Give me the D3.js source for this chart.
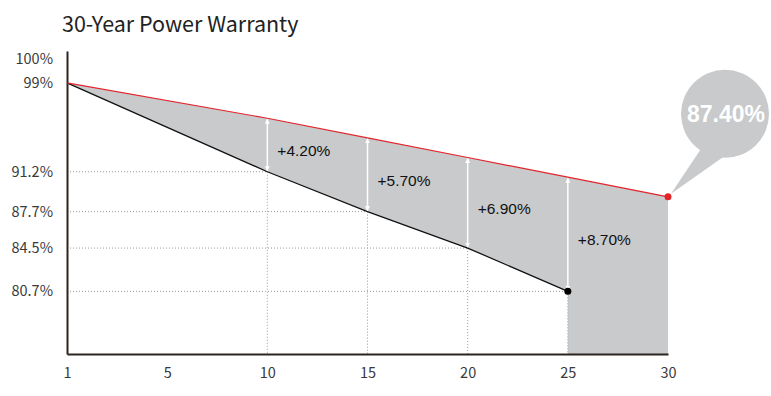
<!DOCTYPE html>
<html>
<head>
<meta charset="utf-8">
<script src="https://cdn.jsdelivr.net/npm/d3@7"></script>
<style>
  body { margin: 0; background: #fff; }
  svg { display: block; }
  .tick text { font-family: "Noto Sans CJK SC", "Noto Sans", sans-serif; font-size: 14.5px; fill: #3a3a3a; }
</style>
</head>
<body>
<svg id="chart" width="771" height="396"></svg>
<script>
(function () {
    // values
    const xLabels = ["1", "5", "10", "15", "20", "25", "30"];
    const years = [1, 10, 15, 20, 25];               // years with a marked output level
    const output = [99, 91.2, 87.7, 84.5, 80.7];      // industry linear degradation
    const gains = [0, 4.2, 5.7, 6.9, 8.7];            // extra output of the warranty
    const warrantyYears = [1, 10, 15, 20, 25, 30];
    const warranty = [99, 95.4, 93.4, 91.4, 89.4, 87.4];
    const yTicks = [99, 91.2, 87.7, 84.5, 80.7];
    const topLabel = "100%";
    const title = "30-Year Power Warranty";

    const svg = d3.select("#chart");

    const x = d3.scalePoint()
        .domain(xLabels)
        .range([67, 668]);

    const y = d3.scaleLinear()
        .domain([75.2, 101.8])
        .range([354, 51]);

    // the warranty line in the original is schematic: drawn on its own, flatter scale
    const yW = d3.scaleLinear()
        .domain([87.4, 99])
        .range([y(89), y(99)]);

    const lineGen = d3.line();

    const blackPts = years.map((yr, i) => [x(String(yr)), y(output[i])]);
    const redPts = warrantyYears.map((yr, i) => [x(String(yr)), yW(warranty[i])]);
    const last = years.length - 1;

    //grey gain area
    const areaPts = redPts.concat([
        [x("30"), y.range()[0]],
        [x("25"), y.range()[0]]
    ]).concat(blackPts.slice().reverse());

    svg.append("path")
        .attr("d", lineGen(areaPts) + "Z")
        .attr("fill", "#c8cacc");

    //dotted guides
    const guides = svg.append("g")
        .attr("stroke", "#9a9a9a")
        .attr("stroke-width", 1)
        .attr("stroke-dasharray", "1,2");

    years.slice(1).forEach((yr, j) => {
        const i = j + 1;
        guides.append("line")
            .attr("x1", x.range()[0]).attr("x2", x(String(yr)))
            .attr("y1", y(output[i])).attr("y2", y(output[i]));
        guides.append("line")
            .attr("x1", x(String(yr))).attr("x2", x(String(yr)))
            .attr("y1", y(output[i])).attr("y2", y.range()[0]);
    });

    //axes
    const yAxis = svg.append("g")
        .attr("transform", `translate(${x.range()[0]},0)`)
        .call(d3.axisLeft(y).tickValues(yTicks).tickSize(0).tickPadding(14)
            .tickFormat(d => d + "%"));

    const xAxis = svg.append("g")
        .attr("transform", `translate(0,${y.range()[0]})`)
        .call(d3.axisBottom(x).tickSize(0).tickPadding(14));

    [yAxis, xAxis].forEach(g => g.select(".domain")
        .attr("stroke", "#2b2421")
        .attr("stroke-width", 2));

    svg.append("text")
        .attr("x", x.range()[0] - 14)
        .attr("y", y.range()[1] + 13)
        .attr("text-anchor", "end")
        .attr("font-family", '"Noto Sans CJK SC", "Noto Sans", sans-serif')
        .attr("font-size", 14.5)
        .attr("fill", "#3a3a3a")
        .text(topLabel);

    //lines
    svg.append("path")
        .attr("d", lineGen(blackPts))
        .attr("fill", "none")
        .attr("stroke", "#111")
        .attr("stroke-width", 1.3);

    svg.append("path")
        .attr("d", lineGen(redPts))
        .attr("fill", "none")
        .attr("stroke", "#e3242b")
        .attr("stroke-width", 1.2);

    //arrows
    const defs = svg.append("defs");
    defs.append("marker")
        .attr("id", "head")
        .attr("viewBox", "0 0 10 10")
        .attr("refX", 9).attr("refY", 5)
        .attr("markerWidth", 5).attr("markerHeight", 6)
        .attr("markerUnits", "userSpaceOnUse")
        .attr("orient", "auto-start-reverse")
        .append("path")
        .attr("d", "M0,0L10,5L0,10Z")
        .attr("fill", "#fff");

    years.slice(1).forEach((yr, j) => {
        const i = j + 1;
        const px = x(String(yr));
        const top = yW(output[i] + gains[i]);
        const bottom = y(output[i]);
        svg.append("line")
            .attr("x1", px).attr("x2", px)
            .attr("y1", top + 1).attr("y2", bottom - 1)
            .attr("stroke", "#fff")
            .attr("stroke-width", 1.5)
            .attr("marker-start", "url(#head)")
            .attr("marker-end", "url(#head)");

        svg.append("text")
            .attr("x", px + 10)
            .attr("y", (top + bottom) / 2 + 11)
            .attr("font-family", '"Liberation Sans", Arial, sans-serif')
            .attr("font-size", 15.5)
            .attr("fill", "#111")
            .text("+" + gains[i].toFixed(2) + "%");
    });

    //end dots
    svg.append("circle")
        .attr("cx", blackPts[last][0]).attr("cy", blackPts[last][1])
        .attr("r", 3.5).attr("fill", "#000");

    const endPt = redPts[redPts.length - 1];
    svg.append("circle")
        .attr("cx", endPt[0]).attr("cy", endPt[1])
        .attr("r", 3.5).attr("fill", "#e3242b");

    //speech bubble
    const cx = endPt[0] + 57, cy = endPt[1] - 83, r = 44;
    const a1 = Math.PI * 90 / 180, a2 = Math.PI * 123 / 180;
    svg.append("path")
        .attr("d", `M${cx + r * Math.cos(a1)},${cy + r * Math.sin(a1) - 2}` +
            `L${endPt[0] + 3},${endPt[1] - 3}` +
            `L${cx + r * Math.cos(a2)},${cy + r * Math.sin(a2) - 2}Z`)
        .attr("fill", "#c8cacc");
    svg.append("circle")
        .attr("cx", cx).attr("cy", cy).attr("r", r)
        .attr("fill", "#c8cacc");
    svg.append("text")
        .attr("x", cx + 1).attr("y", cy + 8)
        .attr("text-anchor", "middle")
        .attr("font-family", '"Liberation Sans", Arial, sans-serif')
        .attr("font-weight", "bold")
        .attr("font-size", 23)
        .attr("fill", "#fff")
        .text(warranty[warranty.length - 1].toFixed(2) + "%");

    //title
    svg.append("text")
        .attr("x", 62).attr("y", 32)
        .attr("font-family", '"Noto Sans CJK SC", "Noto Sans", sans-serif')
        .attr("font-size", 21.5)
        .attr("fill", "#222")
        .text(title);
})();
</script>
</body>
</html>
